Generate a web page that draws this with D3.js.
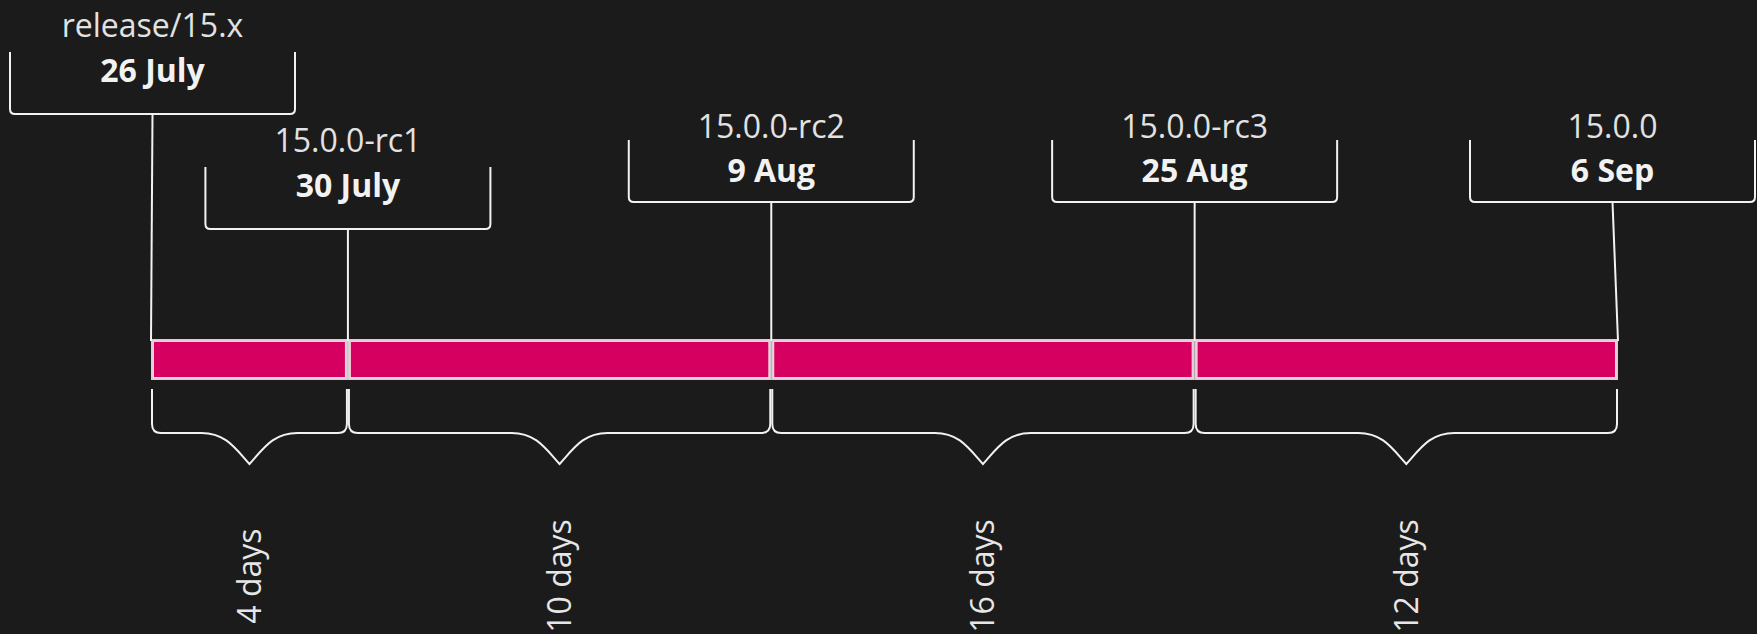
<!DOCTYPE html>
<html>
<head>
<meta charset="utf-8">
<script src="https://cdn.jsdelivr.net/npm/d3@7"></script>
<style>
  html, body { margin: 0; padding: 0; background: #1b1b1b; overflow: hidden; }
  svg { display: block; }
  text { font-family: "Open Sans", "Noto Sans", sans-serif; }
</style>
</head>
<body>
<div id="chart"></div>
<script>
var milestones = ["release/15.x", "15.0.0-rc1", "15.0.0-rc2", "15.0.0-rc3", "15.0.0"];
var dates = ["2022-07-26", "2022-07-30", "2022-08-09", "2022-08-25", "2022-09-06"];
var dateLabels = ["26 July", "30 July", "9 Aug", "25 Aug", "6 Sep"];

var width = 1757,
    height = 634,
    margin = { left: 151, right: 139 };

var parse = d3.timeParse("%Y-%m-%d");
var when = dates.map(parse);

// gaps between milestones, in days
var spans = d3.range(when.length - 1).map(function(i) {
  return { idx: i, days: d3.timeDay.count(when[i], when[i + 1]) };
});

// long gaps are capped so that short ones still get room
var weight = d3.scaleLinear().domain([0, 8.6]).range([0, 1]).clamp(true);
var cum = [0];
spans.forEach(function(d) { cum.push(cum[cum.length - 1] + weight(d.days)); });

var x = d3.scaleLinear()
    .domain([0, cum[cum.length - 1]])
    .range([margin.left, width - margin.right]);

spans.forEach(function(d, i) {
  d.x0 = x(cum[i]);
  d.x1 = x(cum[i + 1]);
});

var svg = d3.select("#chart").append("svg")
    .attr("width", width)
    .attr("height", height);

var barTop = 340.5, barH = 38;

// bar segments
svg.selectAll(".seg")
  .data(spans)
  .enter().append("rect")
    .attr("class", "seg")
    .attr("x", function(d) { return d.x0 + 1.5; })
    .attr("y", barTop)
    .attr("width", function(d) { return d.x1 - d.x0 - 3; })
    .attr("height", barH)
    .attr("fill", "#d5005f")
    .attr("stroke", "#fff")
    .attr("stroke-opacity", 0.8)
    .attr("stroke-width", 3);

// curly braces under every segment
function brace(x0, x1) {
  var r = 9, yTop = 389, yMid = 433, yTip = 464, cw = 48,
      cx = (x0 + x1) / 2;
  return "M" + x0 + "," + yTop + "V" + (yMid - r) +
    "Q" + x0 + "," + yMid + " " + (x0 + r) + "," + yMid +
    "H" + (cx - cw) +
    "C" + (cx - cw * 0.5) + "," + yMid + " " + (cx - cw * 0.3) + "," + (yTip - 16) + " " + cx + "," + yTip +
    "C" + (cx + cw * 0.3) + "," + (yTip - 16) + " " + (cx + cw * 0.5) + "," + yMid + " " + (cx + cw) + "," + yMid +
    "H" + (x1 - r) +
    "Q" + x1 + "," + yMid + " " + x1 + "," + (yMid - r) +
    "V" + yTop;
}

svg.selectAll(".brace")
  .data(spans)
  .enter().append("path")
    .attr("class", "brace")
    .attr("d", function(d) { return brace(d.x0 + 1, d.x1 - 1); })
    .attr("fill", "none")
    .attr("stroke", "#f2f2f2")
    .attr("stroke-width", 2);

svg.selectAll(".days")
  .data(spans)
  .enter().append("text")
    .attr("class", "days")
    .attr("transform", function(d) {
      return "translate(" + (d.x0 + d.x1) / 2 + ",576) rotate(-90)";
    })
    .attr("text-anchor", "middle")
    .attr("dy", "0.35em")
    .attr("fill", "#e6e6e6")
    .style("font-size", "32px")
    .text(function(d) { return d.days + " days"; });

// milestone labels
var boxW = 285, halfW = boxW / 2;
var marks = milestones.map(function(name, i) {
  var bx = x(cum[i]);
  return {
    name: name,
    date: dateLabels[i],
    bx: bx,
    lx: Math.max(10 + halfW, Math.min(width - 2 - halfW, bx)),
    row: 0
  };
});

// stagger boxes that would overlap their neighbour
for (var i = 0; i < marks.length - 1; i++) {
  if (marks[i + 1].lx - marks[i].lx < boxW && marks[i].row == 0) {
    marks[i].row = -1;
    marks[i + 1].row = 1;
  }
}
marks.forEach(function(d) {
  d.bottom = d.row == -1 ? 114 : d.row == 1 ? 229 : 202;
  d.top = d.bottom - 62;
  d.nameY = d.bottom - (d.row == 0 ? 64.5 : 77.5);
  d.dateY = d.bottom - (d.row == 0 ? 20 : 32.5);
});

svg.selectAll(".link")
  .data(marks)
  .enter().append("line")
    .attr("class", "link")
    .attr("x1", function(d) { return d.lx; })
    .attr("y1", function(d) { return d.bottom; })
    .attr("x2", function(d) { return d.bx; })
    .attr("y2", barTop + 0.5)
    .attr("stroke", "#f2f2f2")
    .attr("stroke-width", 2);

var g = svg.selectAll(".mark")
  .data(marks)
  .enter().append("g")
    .attr("class", "mark");

g.append("path")
  .attr("d", function(d) {
    var r = 5, l = d.lx - halfW, rr = d.lx + halfW;
    return "M" + l + "," + d.top + "V" + (d.bottom - r) +
      "Q" + l + "," + d.bottom + " " + (l + r) + "," + d.bottom +
      "H" + (rr - r) +
      "Q" + rr + "," + d.bottom + " " + rr + "," + (d.bottom - r) +
      "V" + d.top;
  })
  .attr("fill", "none")
  .attr("stroke", "#f2f2f2")
  .attr("stroke-width", 2);

g.append("text")
  .attr("x", function(d) { return d.lx; })
  .attr("y", function(d) { return d.nameY; })
  .attr("text-anchor", "middle")
  .attr("fill", "#e2e2e2")
  .style("font-size", "32px")
  .text(function(d) { return d.name; });

g.append("text")
  .attr("x", function(d) { return d.lx; })
  .attr("y", function(d) { return d.dateY; })
  .attr("text-anchor", "middle")
  .attr("fill", "#f2f2f2")
  .style("font-size", "32px")
  .style("font-weight", "bold")
  .text(function(d) { return d.date; });
</script>
</body>
</html>
